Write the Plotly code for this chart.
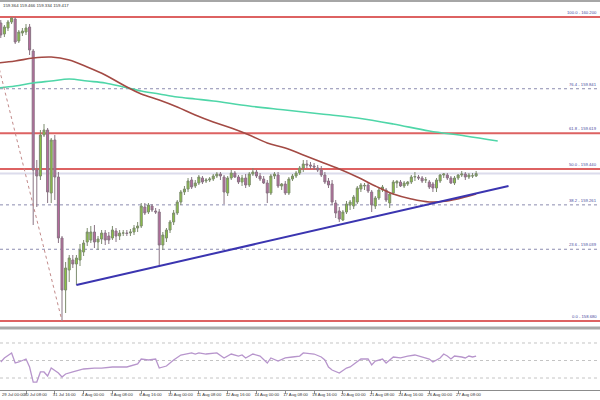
import plotly.graph_objects as go

# ---------------- data (4H bars, 29 Jul 00:00 .. 28 Aug 04:00) ----------------
bar_idx = list(range(134))

opens = [160.135,160.170,160.115,160.145,160.175,160.190,160.080,160.120,160.125,160.150,
         160.030,159.435,159.405,159.610,159.635,159.320,159.585,159.400,159.095,158.835,
         158.935,158.985,158.965,158.985,159.025,159.075,159.085,159.125,159.075,159.090,
         159.120,159.105,159.095,159.130,159.105,159.120,159.120,159.120,159.125,159.145,
         159.155,159.250,159.225,159.255,159.230,159.225,159.060,159.095,159.135,159.175,
         159.220,159.275,159.325,159.340,159.385,159.355,159.370,159.395,159.380,159.385,
         159.390,159.405,159.415,159.400,159.320,159.395,159.420,159.400,159.375,159.395,
         159.360,159.415,159.425,159.405,159.390,159.370,159.320,159.405,159.410,159.355,
         159.365,159.320,159.390,159.405,159.420,159.445,159.465,159.460,159.455,159.445,
         159.435,159.410,159.380,159.365,159.270,159.230,159.185,159.225,159.260,159.255,
         159.275,159.340,159.355,159.360,159.325,159.255,159.295,159.335,159.335,159.270,
         159.320,159.370,159.375,159.355,159.365,159.375,159.400,159.400,159.395,159.385,
         159.375,159.365,159.345,159.380,159.410,159.410,159.395,159.370,159.395,159.410,
         159.415,159.400,159.405,159.405]
highs = [160.165,160.185,160.160,160.185,160.200,160.200,160.135,160.145,160.165,160.165,
         160.040,159.485,159.635,159.665,159.645,159.595,159.610,159.425,159.105,158.975,
         159.010,159.010,159.010,159.065,159.085,159.145,159.155,159.160,159.105,159.135,
         159.135,159.125,159.155,159.145,159.135,159.135,159.135,159.140,159.160,159.175,
         159.270,159.270,159.270,159.265,159.245,159.240,159.125,159.145,159.185,159.235,
         159.285,159.335,159.355,159.395,159.400,159.385,159.410,159.405,159.395,159.400,
         159.415,159.425,159.425,159.410,159.405,159.435,159.430,159.410,159.410,159.415,
         159.425,159.445,159.435,159.420,159.405,159.385,159.415,159.425,159.425,159.370,
         159.380,159.400,159.415,159.430,159.455,159.485,159.485,159.475,159.470,159.460,
         159.455,159.425,159.395,159.385,159.285,159.250,159.235,159.280,159.285,159.310,
         159.355,159.370,159.370,159.375,159.335,159.305,159.345,159.360,159.345,159.325,
         159.385,159.385,159.385,159.380,159.380,159.410,159.425,159.410,159.405,159.400,
         159.385,159.375,159.395,159.415,159.420,159.420,159.405,159.405,159.415,159.430,
         159.425,159.420,159.420,159.430]
lows = [160.105,160.095,160.100,160.130,160.165,160.065,160.070,160.105,160.110,160.010,
        159.160,159.250,159.385,159.600,159.270,159.270,159.285,159.070,158.680,158.720,
        158.875,158.945,158.860,158.955,159.005,159.055,159.070,159.045,159.035,159.065,
        159.060,159.065,159.085,159.075,159.085,159.105,159.105,159.105,159.110,159.125,
        159.145,159.210,159.215,159.225,159.215,158.950,159.035,159.075,159.120,159.160,
        159.210,159.260,159.310,159.325,159.340,159.345,159.360,159.365,159.370,159.375,
        159.380,159.395,159.385,159.265,159.305,159.385,159.395,159.365,159.355,159.345,
        159.350,159.405,159.395,159.380,159.365,159.270,159.310,159.390,159.345,159.335,
        159.310,159.310,159.380,159.395,159.410,159.425,159.445,159.440,159.435,159.425,
        159.400,159.365,159.345,159.260,159.195,159.175,159.180,159.215,159.235,159.240,
        159.265,159.325,159.335,159.320,159.225,159.240,159.285,159.325,159.275,159.245,
        159.310,159.345,159.350,159.345,159.355,159.365,159.380,159.385,159.370,159.370,
        159.340,159.325,159.325,159.370,159.395,159.385,159.365,159.360,159.385,159.400,
        159.385,159.390,159.395,159.400]
closes = [160.160,160.110,160.150,160.175,160.195,160.075,160.125,160.130,160.145,160.035,
          159.435,159.405,159.610,159.635,159.325,159.585,159.400,159.095,158.835,158.945,
          158.995,158.965,158.995,159.035,159.070,159.125,159.125,159.075,159.090,159.120,
          159.085,159.085,159.135,159.105,159.120,159.120,159.118,159.125,159.145,159.155,
          159.255,159.220,159.260,159.235,159.225,159.060,159.110,159.135,159.175,159.220,
          159.275,159.325,159.340,159.380,159.350,159.370,159.400,159.375,159.385,159.390,
          159.405,159.415,159.405,159.325,159.395,159.420,159.400,159.375,159.395,159.360,
          159.415,159.425,159.405,159.390,159.370,159.320,159.405,159.415,159.355,159.365,
          159.320,159.390,159.405,159.420,159.445,159.465,159.460,159.455,159.450,159.435,
          159.410,159.375,159.360,159.275,159.220,159.190,159.225,159.265,159.275,159.300,
          159.345,159.360,159.358,159.330,159.260,159.295,159.335,159.350,159.285,159.315,
          159.375,159.378,159.355,159.370,159.375,159.400,159.402,159.395,159.380,159.386,
          159.350,159.345,159.385,159.410,159.415,159.395,159.370,159.395,159.410,159.415,
          159.400,159.410,159.406,159.417]

# moving averages (read at sampled bars)
ma_red_idx = [0,5,10,15,20,25,30,35,40,45,50,55,60,65,70,75,80,85,90,95,100,105,110,115,120,125,130,133]
ma_red = [159.970,159.980,159.995,160.000,159.985,159.950,159.910,159.860,159.815,159.785,
          159.750,159.710,159.675,159.645,159.610,159.570,159.545,159.510,159.475,159.440,
          159.400,159.355,159.315,159.290,159.275,159.280,159.300,159.315]
ma_teal_idx = [0,5,10,15,20,25,30,35,40,45,50,55,60,70,80,90,100,110,120,130,139]
ma_teal = [159.845,159.855,159.870,159.880,159.890,159.880,159.870,159.850,159.830,159.815,
           159.800,159.790,159.780,159.755,159.735,159.715,159.695,159.665,159.630,159.605,159.580]

# trendline and fibonacci
trend_idx = [22, 142]
trend_price = [158.860, 159.355]
fib_anchor_idx = [-3, 18]
fib_high = 160.200
fib_low = 158.680
fib_pct = [100.0, 76.4, 61.8, 50.0, 38.2, 23.6, 0.0]
fib_solid = [True, False, True, True, False, False, True]

# RSI (sampled)
rsi_idx = [1,2,4,5,6,8,9,10,11,12,13,14,15,17,18,19,21,24,27,29,32,36,39,40,42,44,45,47,49,51,
           54,55,56,58,61,63,65,67,68,69,71,73,75,76,78,80,82,84,85,88,90,91,92,93,95,97,98,99,
           101,103,104,105,107,108,109,110,112,114,116,118,120,121,123,124,125,126,127,129,130,
           131,132,133]
rsi_val = [48.3,52.9,58.6,47.1,48.3,51.7,42.6,25.4,25.4,36.9,36.9,32.3,41.4,35.7,31.1,34.6,36.9,
           40.3,41.4,41.4,42.6,42.6,46.0,51.7,50.6,51.7,41.4,43.7,50.6,56.3,58.6,57.4,58.6,57.4,
           58.6,52.9,57.4,55.1,56.3,52.9,57.4,55.1,47.1,52.9,49.4,52.9,54.0,55.1,58.6,57.4,54.0,
           50.6,42.6,39.1,35.7,41.4,42.6,46.0,51.7,51.7,44.9,49.4,51.7,47.1,50.6,54.0,52.9,55.1,
           56.3,54.0,51.7,48.3,52.9,57.4,55.1,51.7,55.1,54.0,52.9,55.1,54.0,55.1]
rsi_levels = [70, 50, 30]

tick_idx = [0,8,16,24,32,40,48,56,64,72,80,88,96,104,112,120,128]
tick_text = ["29 Jul 00:00","30 Jul 08:00","31 Jul 16:00","4 Aug 00:00","5 Aug 08:00",
             "6 Aug 16:00","10 Aug 00:00","11 Aug 08:00","12 Aug 16:00","14 Aug 00:00",
             "17 Aug 08:00","18 Aug 16:00","20 Aug 00:00","21 Aug 08:00","24 Aug 16:00",
             "26 Aug 00:00","27 Aug 08:00"]
header_text = "159.364 159.466 159.334 159.417"

# ---------------- figure ----------------
W, H = 600, 400
def py(px):  # pixel row -> paper fraction
    return (H - px) / H

FONT = "Liberation Sans, Arial, sans-serif"
fig = go.Figure()

fig.add_trace(go.Candlestick(
    x=bar_idx, open=opens, high=highs, low=lows, close=closes,
    increasing=dict(fillcolor="#8cc63f", line=dict(color="#7d8c6e", width=1)),
    decreasing=dict(fillcolor="#b96b9f", line=dict(color="#8a7484", width=1)),
    xaxis="x", yaxis="y", hoverinfo="skip"))

fig.add_trace(go.Scatter(x=ma_teal_idx, y=ma_teal, mode="lines",
                         line=dict(color="#4fd6a8", width=1.6, shape="spline"),
                         xaxis="x", yaxis="y", hoverinfo="skip"))
fig.add_trace(go.Scatter(x=ma_red_idx, y=ma_red, mode="lines",
                         line=dict(color="#a34a44", width=1.6, shape="spline"),
                         xaxis="x", yaxis="y", hoverinfo="skip"))
fig.add_trace(go.Scatter(x=trend_idx, y=trend_price, mode="lines",
                         line=dict(color="#3b35b0", width=2),
                         xaxis="x", yaxis="y", hoverinfo="skip"))
fig.add_trace(go.Scatter(x=fib_anchor_idx, y=[fib_high, fib_low], mode="lines",
                         line=dict(color="#c28a8a", width=1, dash="dot"),
                         xaxis="x", yaxis="y", hoverinfo="skip"))

fig.add_trace(go.Scatter(x=rsi_idx, y=rsi_val, mode="lines",
                         line=dict(color="#b795cc", width=1.3),
                         xaxis="x2", yaxis="y2", hoverinfo="skip"))

shapes = []
annotations = []
for pct, solid in zip(fib_pct, fib_solid):
    price = fib_low + pct / 100.0 * (fib_high - fib_low)
    if solid:
        shapes.append(dict(type="line", xref="paper", yref="y", x0=0, x1=1, y0=price, y1=price,
                           line=dict(color="#dd6262", width=2), layer="below"))
    else:
        shapes.append(dict(type="line", xref="paper", yref="y", x0=0, x1=1, y0=price, y1=price,
                           line=dict(color="#8c8cb0", width=1, dash="dot"), layer="below"))
    annotations.append(dict(text=f"{pct:.1f} - {price:.3f}", xref="paper", yref="y",
                            x=1, y=price, xanchor="right", yanchor="bottom", xshift=-1,
                            showarrow=False, font=dict(size=4.2, color="#4a4aa0", family=FONT)))

# current price line
shapes.append(dict(type="line", xref="paper", yref="y", x0=0, x1=1, y0=closes[-1], y1=closes[-1],
                   line=dict(color="#dcdcec", width=2), layer="below"))
for lv in rsi_levels:
    shapes.append(dict(type="line", xref="paper", yref="y2", x0=0, x1=1, y0=lv, y1=lv,
                       line=dict(color="#c4c4c4", width=1, dash="dot"), layer="below"))
# window borders
shapes.append(dict(type="rect", xref="paper", yref="paper", x0=0, x1=1, y0=py(2), y1=py(0),
                   fillcolor="#a6a6a6", line=dict(width=0)))
shapes.append(dict(type="rect", xref="paper", yref="paper", x0=0, x1=1, y0=py(329.5), y1=py(326.5),
                   fillcolor="#a9a9a9", line=dict(width=0)))

annotations.append(dict(text=header_text, xref="paper", yref="paper", x=1 / W, y=py(5.5),
                        xanchor="left", yanchor="middle", showarrow=False,
                        font=dict(size=4.3, color="#333333", family=FONT)))
annotations.append(dict(text=tick_text[0], xref="paper", yref="paper", x=0, y=py(394.5),
                        xanchor="left", yanchor="middle", showarrow=False,
                        font=dict(size=4.2, color="#333333", family=FONT)))

xr = [0.78, 167.4]
fig.update_layout(
    width=W, height=H, margin=dict(l=0, r=0, t=0, b=0),
    paper_bgcolor="white", plot_bgcolor="white", showlegend=False,
    boxgap=0.2,
    shapes=shapes, annotations=annotations,
    xaxis=dict(domain=[0, 1], anchor="y", range=xr, showticklabels=False, showgrid=False,
               zeroline=False, ticks="", rangeslider=dict(visible=False)),
    yaxis=dict(domain=[py(326), py(4)], range=[158.655, 160.265], visible=False, fixedrange=True),
    xaxis2=dict(domain=[0, 1], anchor="y2", range=xr, matches="x", showgrid=False, zeroline=False,
                tickvals=tick_idx, ticktext=tick_text, ticks="outside", ticklen=3,
                tickcolor="#909090", ticklabelposition="outside right", tickangle=0,
                ticklabelshift=-3,
                tickfont=dict(size=4.2, color="#333333", family=FONT),
                showline=True, linecolor="#8c8c8c", linewidth=1,
                rangeslider=dict(visible=False)),
    yaxis2=dict(domain=[py(390), py(331)], range=[16.3, 83.7], visible=False, fixedrange=True),
)

fig.write_html("out.html", config={"displayModeBar": False, "staticPlot": True},
               post_script="document.body.style.margin='0px';document.body.style.overflow='hidden';")
